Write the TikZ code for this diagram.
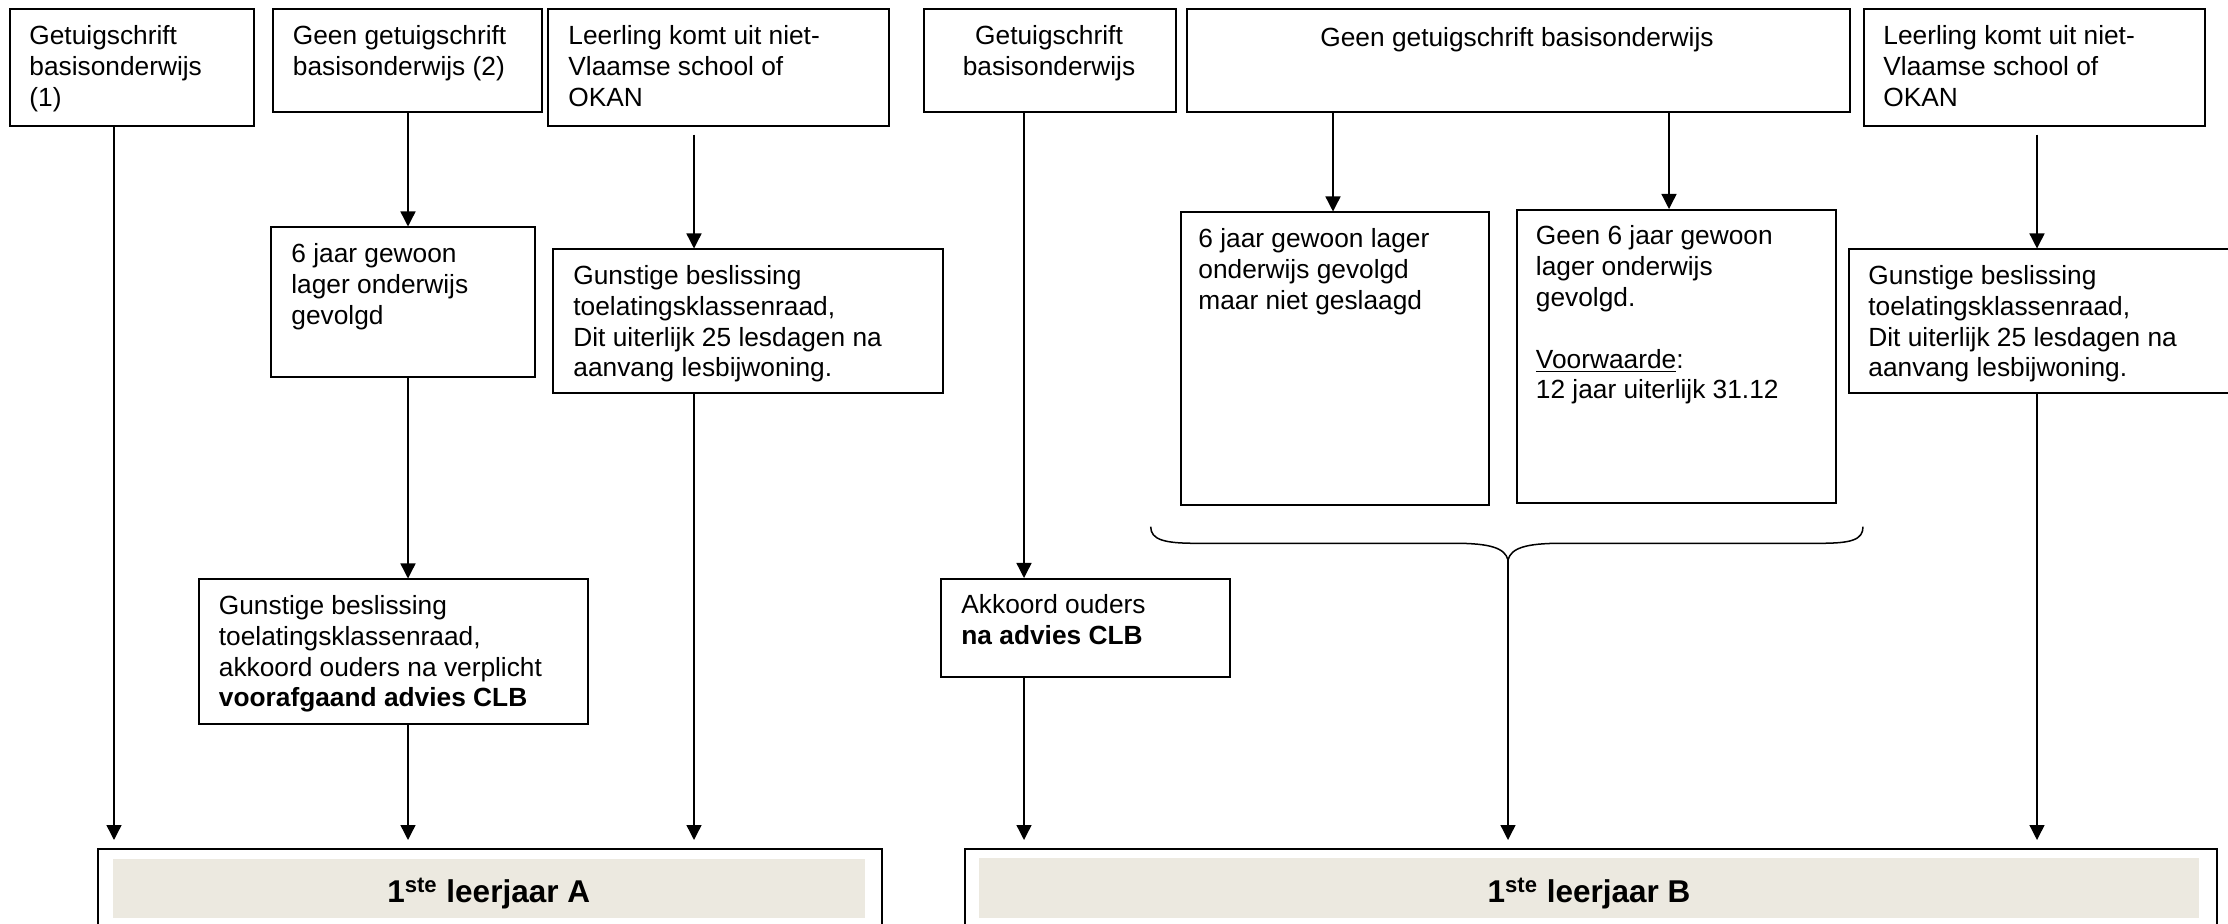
\documentclass[tikz,border=0pt]{standalone}
\usepackage{fontspec}
\setmainfont{Liberation Sans}
\usetikzlibrary{arrows.meta,calc}
\definecolor{barfill}{RGB}{236,233,224}
\newcommand\mkbox[5]{\node[box, minimum width={(#4-#2)*0.5pt}, minimum height={(#5-#3)*0.5pt}] (#1) at (#2,#3) {};}
\newcommand\mkbar[5]{\node[bar, minimum width={(#4-#2)*0.5pt}, minimum height={(#5-#3)*0.5pt}] (#1) at (#2,#3) {};}
\begin{document}
\begin{tikzpicture}[x=0.5pt,y=-0.5pt,
  box/.style={draw, line width=1pt, anchor=north west, inner sep=0pt, fill=white},
  bar/.style={fill=barfill, draw=none, anchor=north west, inner sep=0pt},
  txt/.style={anchor=north west, align=left, inner sep=0pt, font=\fontsize{13.15}{15.4}\selectfont, execute at begin node=\strut},
  ctxt/.style={anchor=north, align=center, inner sep=0pt, font=\fontsize{13.15}{15.4}\selectfont, execute at begin node=\strut},
  ttl/.style={anchor=base, inner sep=0pt, font=\bfseries\fontsize{15.75}{18}\selectfont},
  arr/.style={line width=0.7pt, -{Triangle[length=7.5pt,width=7.5pt]}},
  gapend/.style={shorten >=3.75pt},
  gapstart/.style={shorten <=3.85pt},
  brace/.style={line width=0.75pt}]
\useasboundingbox (0,0) rectangle (2228,924);
\clip (0,0) rectangle (2228,924);

% ---------- left half ----------
\mkbox{b1}{8.5}{8.5}{252.5}{125}
\mkbox{b2}{271.5}{8.5}{540.5}{111}
\mkbox{b3}{547}{8.5}{888}{125}
\mkbox{b4}{270}{226.5}{534}{376}
\mkbox{b5}{552}{248.5}{941.5}{392.5}
\mkbox{b6}{198}{578.5}{586.5}{722.5}
\mkbox{bA}{97}{847.5}{880.5}{1100}
\mkbar{barA}{113}{859}{864.5}{918}

\node[txt] (t1) at (29,25) {Getuigschrift\\basisonderwijs\\(1)};
\node[txt] (t2) at (292.5,25) {Geen getuigschrift\\basisonderwijs (2)};
\node[txt] (t3) at (568,25) {Leerling komt uit niet-\\Vlaamse school of\\OKAN};
\node[txt] (t4) at (291,243) {6 jaar gewoon\\lager onderwijs\\gevolgd};
\node[txt] (t5) at (573,265) {Gunstige beslissing\\toelatingsklassenraad,\\Dit uiterlijk 25 lesdagen na\\aanvang lesbijwoning.};
\node[txt] (t6) at (218.5,595) {Gunstige beslissing\\toelatingsklassenraad,\\akkoord ouders na verplicht\\\textbf{voorafgaand advies CLB}};
\node[ttl] (tA) at (488.7,902.5) {1\textsuperscript{ste} leerjaar A};

% ---------- right half ----------
\mkbox{b7}{923}{8.5}{1175}{111}
\mkbox{b8}{1185.5}{8.5}{1848.5}{111}
\mkbox{b9}{1863}{8.5}{2203.5}{125}
\mkbox{b10}{1179.5}{211.5}{1488}{504.5}
\mkbox{b11}{1516}{209}{1835}{502}
\mkbox{b12}{1848}{248.5}{2260}{392.5}
\mkbox{b13}{940}{578}{1228.5}{676}
\mkbox{bB}{963.5}{847.5}{2215.5}{1100}
\mkbar{barB}{979}{857.5}{2199}{917.5}

\node[ctxt] (t7) at (1049,25) {Getuigschrift\\basisonderwijs};
\node[ctxt] (t8) at (1517,25) {Geen getuigschrift basisonderwijs};
\node[txt] (t9) at (1883,25) {Leerling komt uit niet-\\Vlaamse school of\\OKAN};
\node[txt] (t10) at (1198,228) {6 jaar gewoon lager\\onderwijs gevolgd\\maar niet geslaagd};
\node[txt] (t11) at (1535.5,225.5) {Geen 6 jaar gewoon\\lager onderwijs\\gevolgd.\\[15.35pt]\underline{Voorwaarde}:\\12 jaar uiterlijk 31.12};
\node[txt] (t12) at (1868,265) {Gunstige beslissing\\toelatingsklassenraad,\\Dit uiterlijk 25 lesdagen na\\aanvang lesbijwoning.};
\node[txt] (t13) at (961,594.5) {Akkoord ouders\\\textbf{na advies CLB}};
\node[ttl] (tB) at (1589,902.5) {1\textsuperscript{ste} leerjaar B};

% brace
\draw[brace] (1150.7,526.7) .. controls (1150.7,540) and (1165,543.3) .. (1196,543.3)
  -- (1455,543.3) .. controls (1490,543.3) and (1505,548) .. (1508,560)
  .. controls (1511,548) and (1526,543.3) .. (1561,543.3)
  -- (1820,543.3) .. controls (1851,543.3) and (1863,540) .. (1863,526.7);
\coordinate (btip) at (1508,560);

% arrow columns
\coordinate (xa) at (114,0);
\coordinate (xb) at (408,0);
\coordinate (xc) at (694,0);
\coordinate (xd) at (1024,0);
\coordinate (xe) at (1333,0);
\coordinate (xf) at (1669,0);
\coordinate (xg) at (2037,0);

\draw[arr, gapend] (b1.south -| xa) -- (bA.north -| xa);
\draw[arr] (b2.south -| xb) -- (b4.north -| xb);
\draw[arr, gapstart] (b3.south -| xc) -- (b5.north -| xc);
\draw[arr] (b4.south -| xb) -- (b6.north -| xb);
\draw[arr, gapend] (b6.south -| xb) -- (bA.north -| xb);
\draw[arr, gapend] (b5.south -| xc) -- (bA.north -| xc);

\draw[arr] (b7.south -| xd) -- (b13.north -| xd);
\draw[arr, gapend] (b13.south -| xd) -- (bB.north -| xd);
\draw[arr] (b8.south -| xe) -- (b10.north -| xe);
\draw[arr] (b8.south -| xf) -- (b11.north -| xf);
\draw[arr, gapstart] (b9.south -| xg) -- (b12.north -| xg);
\draw[arr, gapend] (b12.south -| xg) -- (bB.north -| xg);
\draw[arr, gapend] (btip) -- (bB.north -| btip);
\end{tikzpicture}
\end{document}
